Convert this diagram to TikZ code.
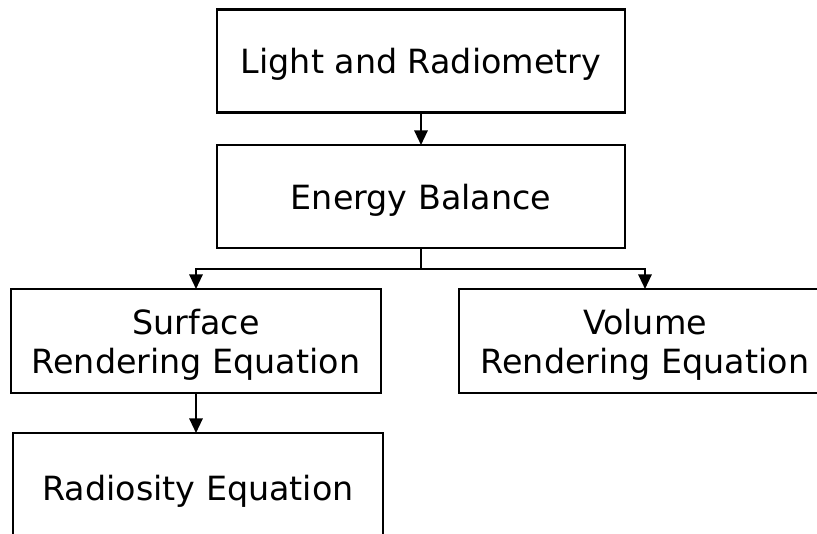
\documentclass[tikz,border=0pt]{standalone}
\usepackage{fontspec}
\setmainfont{DejaVu Sans}
\usetikzlibrary{arrows.meta}
\begin{document}
\begin{tikzpicture}[x=0.75pt,y=-0.75pt,
  box/.style={draw=black, line width=1.6pt, fill=white, outer sep=0pt, inner sep=0pt,
    align=center, text depth=0pt, font=\fontsize{25}{29}\selectfont},
  conn/.style={line width=1.6pt, -{Triangle[width=10pt,length=11pt]}},
  seg/.style={line width=1.6pt}]
\useasboundingbox (0,0) rectangle (817,533);
\clip (0,0) rectangle (817,533);
\node[box, minimum width=306pt, minimum height=77.25pt] (light) at (421,61) {Light and Radiometry};
\node[box, minimum width=306pt, minimum height=77.25pt] (energy) at (421,196.5) {Energy Balance};
\node[box, minimum width=277.5pt, minimum height=78pt] (surface) at (196,341) {Surface\\Rendering Equation};
\node[box, minimum width=279pt, minimum height=78pt] (volume) at (645,341) {Volume\\Rendering Equation};
\node[box, minimum width=277.5pt, minimum height=82.5pt] (radiosity) at (198,488) {Radiosity Equation};
\coordinate (split) at (421,269);
\draw[conn] (light) -- (energy);
\draw[seg] (energy.south) -- (split);
\draw[conn] (split) -| (surface.north);
\draw[conn] (split) -| (volume.north);
\draw[conn] (surface) -- (radiosity.north -| surface.south);
\end{tikzpicture}
\end{document}
